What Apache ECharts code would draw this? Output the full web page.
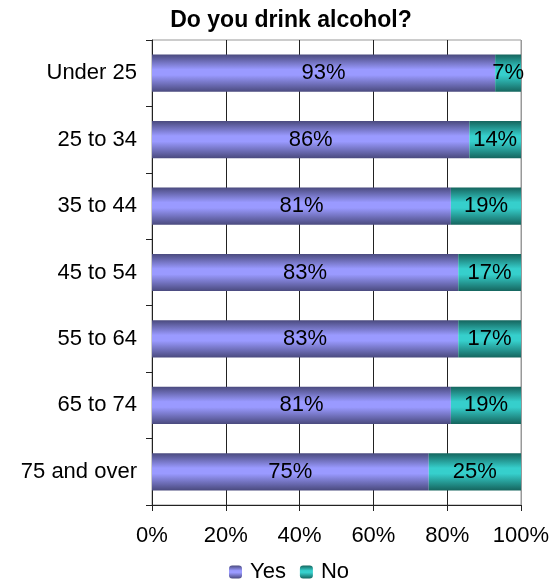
<!DOCTYPE html>
<html>
<head>
<meta charset="utf-8">
<title>Do you drink alcohol?</title>
<script src="https://cdn.jsdelivr.net/npm/echarts@6/dist/echarts.min.js"></script>
<style>
  html, body { margin: 0; padding: 0; background: #fff; }
  #chart { width: 555px; height: 580px; }
</style>
</head>
<body>
<div id="chart"></div>
<script>
// Age groups and share of respondents answering each way (percent)
const ageGroups = ['Under 25', '25 to 34', '35 to 44', '45 to 54', '55 to 64', '65 to 74', '75 and over'];
const yesValues = [93, 86, 81, 83, 83, 81, 75];
const noValues = [7, 14, 19, 17, 17, 19, 25];
const percentTicks = [0, 20, 40, 60, 80, 100];

const FONT = 'Liberation Sans, Arial, sans-serif';

// Cylinder-like shading across the bar thickness
function shaded(edge, mid) {
  return new echarts.graphic.LinearGradient(0, 0, 0, 1, [
    { offset: 0, color: edge },
    { offset: 0.4, color: mid },
    { offset: 0.55, color: mid },
    { offset: 1, color: edge }
  ]);
}

const chart = echarts.init(document.getElementById('chart'), null, { renderer: 'canvas' });

const valueLabel = {
  show: true,
  position: 'inside',
  formatter: '{c}%',
  color: '#000',
  fontFamily: FONT,
  fontSize: 22
};

chart.setOption({
  animation: false,
  backgroundColor: '#fff',
  title: {
    text: 'Do you drink alcohol?',
    left: 286,
    textAlign: 'center',
    top: 4,
    textStyle: { fontFamily: FONT, fontSize: 23, fontWeight: 'bold', color: '#000' }
  },
  legend: {
    top: 561,
    left: 229,
    padding: 0,
    itemWidth: 13,
    itemHeight: 13,
    itemGap: 14,
    textStyle: { fontFamily: FONT, fontSize: 22, color: '#000', padding: [0, 0, 0, 3] },
    data: ['Yes', 'No']
  },
  grid: {
    left: 152,
    right: 34,
    top: 40,
    bottom: 75,
    show: true,
    borderColor: '#999',
    borderWidth: 1
  },
  xAxis: {
    type: 'value',
    min: percentTicks[0],
    max: percentTicks[percentTicks.length - 1],
    interval: 20,
    axisLine: { show: true, lineStyle: { color: '#222', width: 1 } },
    axisTick: { show: true, length: 6, lineStyle: { color: '#222' } },
    axisLabel: {
      margin: 20,
      color: '#000',
      fontFamily: FONT,
      fontSize: 22,
      formatter: v => percentTicks.includes(v) ? v + '%' : ''
    },
    splitLine: {
      show: true,
      lineStyle: { color: ['#222', '#222', '#222', '#222', '#222', '#999'], width: 1 }
    }
  },
  yAxis: {
    type: 'category',
    inverse: true,
    data: ageGroups,
    axisLine: { show: true, lineStyle: { color: '#222', width: 1 } },
    axisTick: { show: true, length: 6, lineStyle: { color: '#222' } },
    axisLabel: { margin: 15, color: '#000', fontFamily: FONT, fontSize: 22 }
  },
  series: [
    {
      name: 'Yes',
      type: 'bar',
      stack: 'answer',
      barCategoryGap: '44%',
      data: yesValues,
      itemStyle: { color: shaded('#4a4a7e', '#9a9aff') },
      label: valueLabel
    },
    {
      name: 'No',
      type: 'bar',
      stack: 'answer',
      barCategoryGap: '44%',
      data: noValues,
      itemStyle: { color: shaded('#15655e', '#36cfcc') },
      label: valueLabel
    }
  ]
});
</script>
</body>
</html>
